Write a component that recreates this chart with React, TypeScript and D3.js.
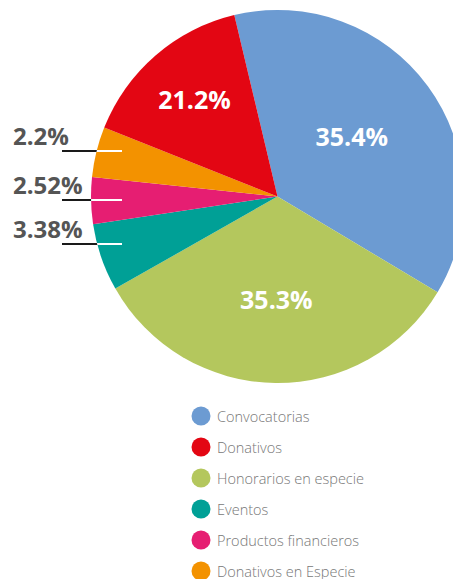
import React from "react";
import * as d3 from "d3";

// Legend order
const categories = [
  "Convocatorias",
  "Donativos",
  "Honorarios en especie",
  "Eventos",
  "Productos financieros",
  "Donativos en Especie",
];
// Slice sizes as drawn in the picture (share of the circle, %)
const sliceValues = [37.3, 15.25, 33.2, 5.85, 4.05, 4.35];
// Printed labels
const labelTexts = ["35.4%", "21.2%", "35.3%", "3.38%", "2.52%", "2.2%"];
const colors = ["#6c9bd2", "#e30613", "#b4c75d", "#00a096", "#e61e72", "#f39200"];
// Clockwise drawing order of the slices (indices into categories)
const pieOrder = [0, 2, 3, 4, 5, 1];

const W = 453;
const H = 579;
const cx = 277.5;
const cy = 196.5;
const R = 186.5;

// inside-label radii (by category index)
const insideRadius: Record<number, number> = { 0: 95, 1: 127, 2: 104 };
// outside labels: y of the leader line (by category index)
const outsideLineY: Record<number, number> = { 5: 151, 4: 200, 3: 244 };

export default function App() {
  const ordered = pieOrder.map((i) => ({ i, v: sliceValues[i] }));
  const start = (-13.4 * Math.PI) / 180;
  const pie = d3
    .pie<{ i: number; v: number }>()
    .sort(null)
    .value((d) => d.v)
    .startAngle(start)
    .endAngle(start + 2 * Math.PI);
  const arcs = pie(ordered);
  const arc = d3.arc<d3.PieArcDatum<{ i: number; v: number }>>().innerRadius(0).outerRadius(R);

  const legendY = d3.scaleLinear().domain([0, categories.length - 1]).range([416, 571]);
  const font = "'Open Sans', 'DejaVu Sans', sans-serif";

  return (
    <svg
      width={W}
      height={H}
      style={{ position: "absolute", left: 0, top: 0, background: "#fff" }}
    >
      <defs>
        <clipPath id="pieClip">
          <circle cx={cx} cy={cy} r={R} />
        </clipPath>
      </defs>
      <g transform={`translate(${cx},${cy})`}>
        {arcs.map((a) => (
          <path key={a.data.i} d={arc(a) || ""} fill={colors[a.data.i]} />
        ))}
        {arcs
          .filter((a) => insideRadius[a.data.i] !== undefined)
          .map((a) => {
            const mid = (a.startAngle + a.endAngle) / 2 - (a.data.i === 0 ? 0.04 : 0);
            const r = insideRadius[a.data.i];
            const x = r * Math.sin(mid);
            const y = -r * Math.cos(mid);
            return (
              <text
                key={a.data.i}
                x={x}
                y={y}
                dy="0.36em"
                textAnchor="middle"
                fill="#fff"
                fontFamily={font}
                fontWeight={700}
                fontSize={25}
              >
                {labelTexts[a.data.i]}
              </text>
            );
          })}
      </g>
      {Object.keys(outsideLineY).map((k) => {
        const i = +k;
        const y = outsideLineY[i];
        return (
          <g key={i}>
            <line x1={62} x2={122} y1={y} y2={y} stroke="#1a1a1a" strokeWidth={2} />
            <line
              x1={62}
              x2={122}
              y1={y}
              y2={y}
              stroke="#fff"
              strokeWidth={2}
              clipPath="url(#pieClip)"
            />
            <text
              x={13}
              y={y - 6}
              fill="#555"
              fontFamily={font}
              fontWeight={700}
              fontSize={24}
            >
              {labelTexts[i]}
            </text>
          </g>
        );
      })}
      {categories.map((c, i) => (
        <g key={c} transform={`translate(0,${legendY(i)})`}>
          <circle cx={201} cy={0} r={9.5} fill={colors[i]} />
          <text
            x={217}
            y={5.5}
            fill="#777"
            fontFamily={font}
            fontWeight={300}
            fontSize={14.5}
          >
            {c}
          </text>
        </g>
      ))}
    </svg>
  );
}
